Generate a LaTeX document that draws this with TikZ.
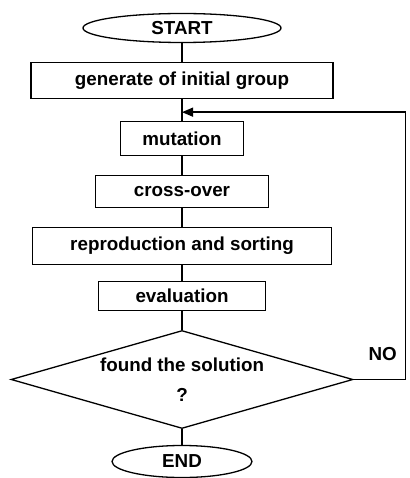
\documentclass[tikz,border=0pt]{standalone}
\usepackage{fontspec}
\setmainfont{Liberation Sans}
\usetikzlibrary{positioning,shapes,arrows.meta}

\begin{document}
\begin{tikzpicture}[node distance=18.7pt, line width=1.3pt, >={Triangle[length=11pt,width=9pt]},
    every node/.style={font=\fontsize{18.8}{30}\selectfont\bfseries},
    stepbox/.style={draw, rectangle, inner sep=0pt},
    terminal/.style={draw, ellipse, inner sep=0pt},
    test/.style={draw, diamond, aspect=3.5, inner sep=0pt, align=center}]
            \useasboundingbox (0,0) rectangle (409pt,-478pt);
            \node[terminal, minimum width = 198pt, minimum height = 29pt] (start) at (182pt,-28pt) {START};
            \node[stepbox, minimum width = 302pt, minimum height = 36pt, below=of start](init){generate of initial group};
            \draw(start.south)--(init.north);
            \node[stepbox, minimum width = 123pt, minimum height = 34pt, below=of init, yshift=-3pt](mutation){mutation};
            \draw(init.south)--(mutation.north);
            \node[stepbox, minimum width = 173pt, minimum height = 32pt, below=of mutation](crossover){cross-over};
            \draw(mutation.south)--(crossover.north);
            \node[stepbox, minimum width = 299pt, minimum height = 37pt, below=of crossover](reprod){reproduction and sorting};
            \draw(crossover.south)--(reprod.north);
            \node[stepbox, minimum width = 167pt, minimum height = 29pt, below=of reprod, yshift=3pt](eval){evaluation};
            \draw(reprod.south)--(eval.north);
            \node[test, minimum width = 342pt, minimum height = 98pt, below=of eval](found){found the solution\\?};
            \draw(eval.south)--(found.north);
            \node[terminal, minimum width = 140pt, minimum height = 32pt, below=of found, yshift=3pt](end){END};
            \draw(found.south)--(end.north);

            % loop back when no solution is found
            \coordinate[below=13pt of init.south](back);
            \draw[->](found.east)--++(52pt,0)|-(back);
            \node[above right=15pt and 11pt of found.east](no){NO};
        \end{tikzpicture}
\end{document}
